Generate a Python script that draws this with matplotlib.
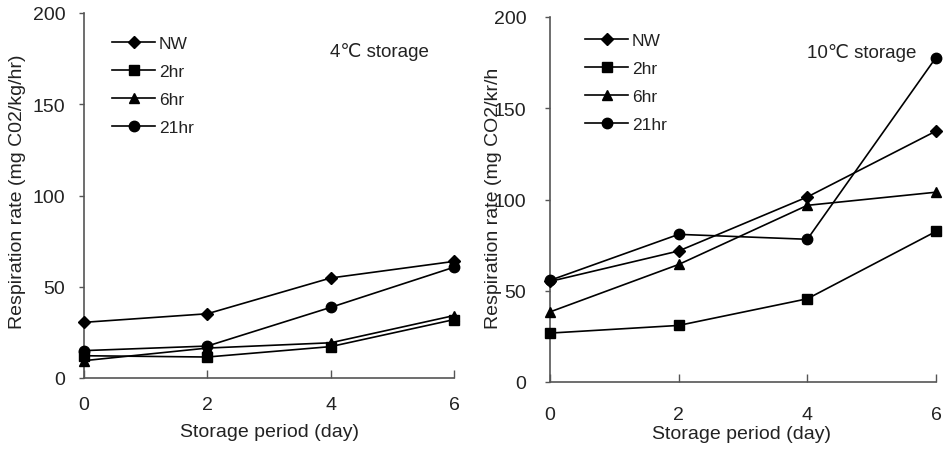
import matplotlib
matplotlib.use("Agg")
import matplotlib.pyplot as plt

plt.rcParams['font.family'] = ['Liberation Sans', 'DejaVu Sans']

days = [0, 2, 4, 6]
series_names = ["NW", "2hr", "6hr", "21hr"]
markers = ["D", "s", "^", "o"]
msizes = [6, 7, 7, 7.5]

left_NW = [30.5, 35.2, 54.8, 63.9]
left_2hr = [12.2, 11.5, 17.2, 32.0]
left_6hr = [9.5, 16.4, 19.3, 34.2]
left_21hr = [15.0, 17.5, 38.7, 60.7]

right_NW = [55.1, 71.8, 101.4, 137.5]
right_2hr = [26.8, 31.0, 45.6, 82.5]
right_6hr = [38.4, 64.4, 96.8, 104.0]
right_21hr = [55.7, 80.9, 78.2, 177.8]

x_ticks = [0, 2, 4, 6]
y_ticks = [0, 50, 100, 150, 200]

W, H = 947, 452
fig = plt.figure(figsize=(W / 100, H / 100), dpi=100)
TXT = '#222222'

def px_axes(x0, x1, ytop, ybot):
    return fig.add_axes([x0 / W, (H - ybot) / H, (x1 - x0) / W, (ybot - ytop) / H])

def style(ax, ypad, xpad):
    ax.set_xlim(0, 6)
    ax.set_ylim(0, 200)
    ax.set_xticks(x_ticks)
    ax.set_yticks(y_ticks)
    for s in ['top', 'right']:
        ax.spines[s].set_visible(False)
    for s in ['left', 'bottom']:
        ax.spines[s].set_color('#555555')
        ax.spines[s].set_linewidth(1.2)
    ax.tick_params(axis='y', direction='out', length=3.5, width=1, color='#555555',
                   labelsize=14, pad=ypad, labelcolor=TXT)
    ax.tick_params(axis='x', direction='in', length=6, width=1, color='#555555',
                   labelsize=14, pad=xpad, labelcolor=TXT)

def draw(ax, data, leg_xy):
    for vals, name, m, ms in zip(data, series_names, markers, msizes):
        ax.plot(days, vals, color='black', lw=1.2, marker=m, markersize=ms,
                markerfacecolor='black', markeredgecolor='black', label=name,
                clip_on=False, zorder=3)
    ax.legend(loc='upper left', bbox_to_anchor=(leg_xy[0] / W, (H - leg_xy[1]) / H),
              bbox_transform=fig.transFigure, frameon=False, fontsize=12.5,
              handlelength=2.5, handletextpad=0.2, labelspacing=0.73,
              borderpad=0, borderaxespad=0, labelcolor=TXT)

ax1 = px_axes(84, 454, 14, 379)
style(ax1, 10, 13)
draw(ax1, [left_NW, left_2hr, left_6hr, left_21hr], (112, 37))

ax2 = px_axes(550, 936, 18, 383)
style(ax2, 13.5, 17)
draw(ax2, [right_NW, right_2hr, right_6hr, right_21hr], (585, 34))

fig.text(330 / W, (H - 52) / H, "4\u2103 storage", fontsize=13.5, va='center', ha='left', color=TXT)
fig.text(807 / W, (H - 53) / H, "10\u2103 storage", fontsize=13.5, va='center', ha='left', color=TXT)

fig.text(18 / W, (H - 192) / H, "Respiration rate (mg C02/kg/hr)", rotation=90,
         fontsize=14, va='center', ha='center', color=TXT)
fig.text(493 / W, (H - 198) / H, "Respiration rate (mg CO2/kr/h", rotation=90,
         fontsize=14, va='center', ha='center', color=TXT)
fig.text(269 / W, (H - 433) / H, "Storage period (day)", fontsize=14,
         va='center', ha='center', color=TXT)
fig.text(741 / W, (H - 435) / H, "Storage period (day)", fontsize=14,
         va='center', ha='center', color=TXT)

fig.savefig("out.png", dpi=100)
